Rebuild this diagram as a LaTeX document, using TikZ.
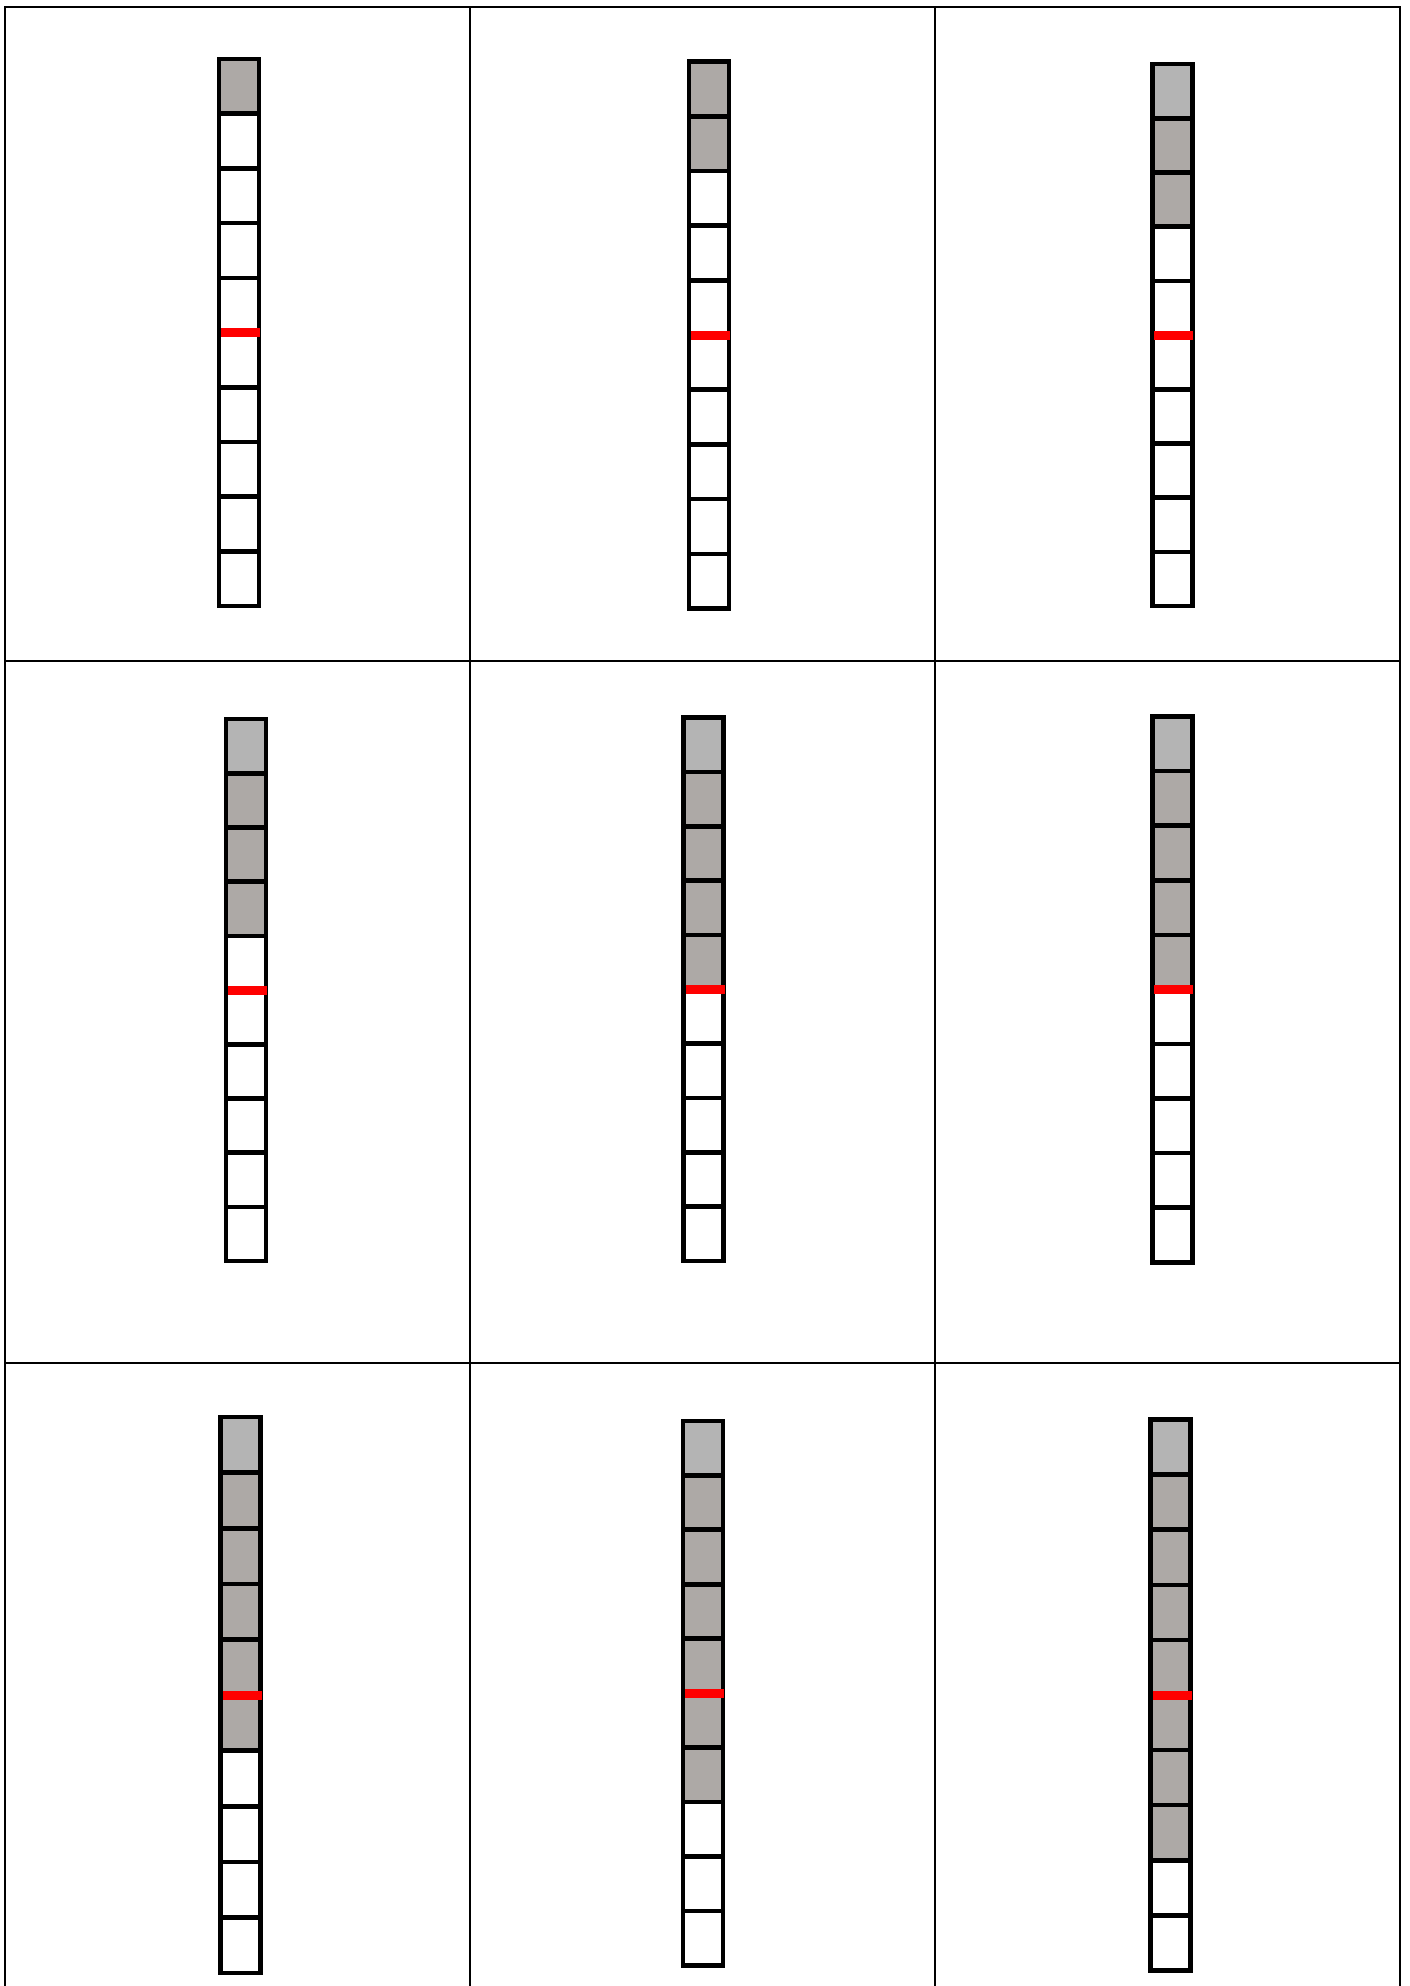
\documentclass[tikz,border=0pt]{standalone}
\definecolor{grayw}{RGB}{173,169,166}
\definecolor{grayl}{RGB}{180,180,180}
\definecolor{redln}{RGB}{255,0,0}
\tikzset{
  cellbox/.style={draw=black, line width=4.6pt},
  redline/.style={draw=redln, line width=9pt},
  gridh/.style={draw=black, line width=1.8pt},
  gridv/.style={draw=black, line width=1.3pt},
}
\newcommand\drawstrip[5]{%
  \pgfmathsetmacro\tp{#2+2}%
  \pgfmathsetmacro\bt{#3-2}%
  \pgfmathsetmacro\hh{(\bt-\tp)/10}%
  \foreach \i in {1,...,10}{%
    \pgfmathsetmacro\ya{\tp+(\i-1)*\hh}%
    \pgfmathsetmacro\yb{\tp+\i*\hh}%
    \ifnum\i>#4 \def\fc{white}\else
      \ifnum\i=1 \ifnum#5=1 \def\fc{grayl}\else\def\fc{grayw}\fi
      \else\def\fc{grayw}\fi
    \fi
    \filldraw[cellbox, fill=\fc] (#1-20,\ya) rectangle (#1+20,\yb);
  }%
  \pgfmathsetmacro\yr{\tp+5*\hh}%
  \draw[redline] (#1-18,\yr) -- (#1+21,\yr);
}
\begin{document}
\begin{tikzpicture}[x=1pt,y=-1pt]
\useasboundingbox (0,0) rectangle (1410,1986);
\fill[white] (0,0) rectangle (1410,1986);
% grid
\draw[gridh] (5,7) -- (1400,7);
\draw[gridh] (5,661) -- (1400,661);
\draw[gridh] (5,1363) -- (1400,1363);
\draw[gridv] (5,6) -- (5,1990);
\draw[gridv] (470,7) -- (470,1990);
\draw[gridv] (935,7) -- (935,1990);
\draw[gridh] (1400,6) -- (1400,1990);
% strips
\drawstrip{238.8}{57}{608}{1}{0}
\drawstrip{708.8}{59.5}{610.6}{2}{0}
\drawstrip{1172.4}{62}{608}{3}{1}
\drawstrip{245.8}{717}{1263}{4}{1}
\drawstrip{703.7}{715.7}{1263}{5}{1}
\drawstrip{1172.4}{714.5}{1264.3}{5}{1}
\drawstrip{240.7}{1415}{1975}{6}{1}
\drawstrip{703.1}{1418.8}{1967.4}{7}{1}
\drawstrip{1170.5}{1417.6}{1972.4}{8}{1}
\end{tikzpicture}
\end{document}
